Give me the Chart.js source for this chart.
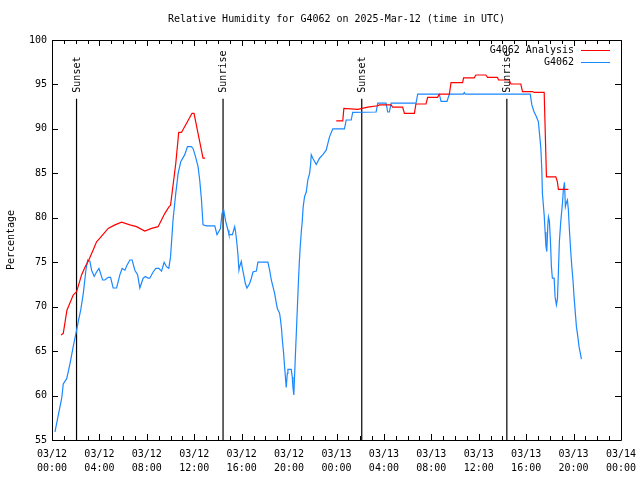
<!DOCTYPE html>
<html>
<head>
<meta charset="utf-8">
<script src="https://cdn.jsdelivr.net/npm/chart.js@4.4.1/dist/chart.umd.min.js"></script>
<style>
  html, body { margin: 0; padding: 0; background: #fff; }
  #wrap { width: 640px; height: 480px; }
</style>
</head>
<body>
<div id="wrap"><canvas id="myChart" width="640" height="480"></canvas></div>
<script>
const chartTitle = 'Relative Humidity for G4062 on 2025-Mar-12 (time in UTC)';
const yTitle = 'Percentage';
const tickDates = ['03/12', '03/12', '03/12', '03/12', '03/12', '03/12', '03/13', '03/13', '03/13', '03/13', '03/13', '03/13', '03/14'];
const tickTimes = ['00:00', '04:00', '08:00', '12:00', '16:00', '20:00', '00:00', '04:00', '08:00', '12:00', '16:00', '20:00', '00:00'];

// hours since 03/12 00:00 UTC
const analysisHours = [0.76, 0.95, 1.26, 1.79, 2.08, 2.5, 2.84, 3.06, 3.48, 3.76, 4.04, 4.74, 5.31, 5.87, 6.57, 7.13, 7.83, 8.4, 8.95, 9.52, 9.88, 10.0, 10.44, 10.69, 10.92, 11.34, 11.81, 11.98, 12.32, 12.74, 12.91,
  18.0,
  23.98, 24.53, 24.62, 25.8, 26.64, 27.48, 27.62, 28.6, 28.74, 29.58, 29.73, 30.57, 30.7, 31.55, 31.69, 32.53, 32.67, 33.52, 33.66, 34.64, 34.72, 35.62, 35.76, 36.6, 36.74, 37.58, 37.67, 38.57, 38.71, 39.55, 39.69, 40.53, 40.67, 41.52, 41.71, 42.5, 42.63, 42.72, 43.56];
const analysisValues = [66.8, 67.0, 69.6, 71.3, 71.7, 73.6, 74.6, 75.1, 76.4, 77.3, 77.7, 78.8, 79.2, 79.5, 79.2, 79.0, 78.5, 78.8, 79.0, 80.5, 81.25, 81.4, 86.1, 89.6, 89.6, 90.6, 91.75, 91.75, 89.5, 86.7, 86.7,
  null,
  90.9, 90.9, 92.3, 92.2, 92.45, 92.6, 92.7, 92.7, 92.45, 92.45, 91.75, 91.75, 92.8, 92.8, 93.55, 93.55, 93.9, 93.9, 95.2, 95.2, 95.75, 95.75, 96.06, 96.06, 95.8, 95.8, 95.5, 95.5, 95.05, 95.05, 94.2, 94.2, 94.1, 94.1, 84.6, 84.6, 84.06, 83.2, 83.2];

const obsHours = [0.25, 0.53, 0.82, 0.95, 1.24, 1.52, 1.79, 2.08, 2.21, 2.42, 2.64, 2.86, 3.01, 3.2, 3.34, 3.56, 3.76, 3.96, 4.13, 4.27, 4.46, 4.74, 4.94, 5.16, 5.45, 5.73, 5.92, 6.15, 6.34, 6.57, 6.76, 6.99, 7.22, 7.41, 7.69, 7.89, 8.11, 8.25, 8.53, 8.76, 9.01, 9.24, 9.46, 9.66, 9.85,
  10.0, 10.21, 10.44, 10.64, 10.86, 11.2, 11.43, 11.76, 11.9, 12.1, 12.32, 12.46, 12.61, 12.74, 13.03, 13.73, 13.92, 14.21, 14.34, 14.48, 14.65, 14.85, 14.93, 15.22, 15.41, 15.49, 15.6, 15.69, 15.77, 15.83, 15.97, 16.06, 16.17, 16.31, 16.45, 16.67, 16.82, 16.95, 17.24, 17.37,
  18.21, 18.36, 18.5, 18.64, 18.78, 18.92, 19.01, 19.2, 19.28, 19.37, 19.43, 19.54, 19.62, 19.71, 19.76, 19.85, 19.9, 20.18, 20.27, 20.32, 20.4, 20.52, 20.61, 20.69, 20.77, 20.86, 20.94, 21.03, 21.11, 21.19, 21.31, 21.45, 21.58, 21.73, 21.81, 21.87,
  22.0, 22.29, 22.57, 22.85, 23.13, 23.41, 23.69, 24.67, 24.82, 25.24, 25.37, 27.34, 27.48, 28.18, 28.32, 28.46, 28.61, 30.71, 30.85, 32.67, 32.82, 33.32, 33.52, 34.7, 34.78, 34.86, 40.34,
  40.48, 40.67, 40.86, 41.03, 41.15, 41.24, 41.32, 41.37, 41.52, 41.6, 41.66, 41.74, 41.83, 41.88, 41.96, 42.05, 42.13, 42.21, 42.36, 42.44, 42.55, 42.64, 42.72, 42.8, 42.92, 43.06, 43.14, 43.23, 43.31, 43.39, 43.48, 43.56, 43.65, 43.76, 43.85, 43.96, 44.04, 44.15, 44.24, 44.36, 44.46, 44.57, 44.66];
const obsValues = [55.9, 57.8, 59.7, 61.3, 61.9, 63.6, 65.5, 67.4, 68.3, 69.6, 71.5, 74.1, 75.25, 75.1, 74.1, 73.4, 73.9, 74.3, 73.6, 73.0, 73.0, 73.3, 73.3, 72.1, 72.1, 73.6, 74.3, 74.1, 74.7, 75.25, 75.25, 74.1, 73.6, 72.1, 73.2, 73.4, 73.2, 73.2, 73.9, 74.3, 74.3, 74.0, 75.0, 74.5, 74.3,
  75.6, 79.75, 82.75, 85.0, 86.3, 87.1, 88.0, 88.0, 87.8, 86.9, 85.75, 84.25, 82.0, 79.2, 79.1, 79.1, 78.1, 78.8, 80.5, 80.9, 79.6, 78.6, 78.1, 78.1, 79.0, 78.4, 77.1, 75.8, 74.1, 74.5, 75.1, 74.3, 73.6, 72.6, 72.1, 72.6, 73.2, 73.9, 74.0, 75.0,
  75.0, 74.1, 73.0, 72.25, 71.5, 70.4, 69.8, 69.25, 68.5, 67.4, 66.25, 64.75, 63.25, 61.75, 60.9, 62.5, 62.95, 62.95, 62.1, 61.0, 60.06, 64.1, 67.0, 69.6, 72.25, 74.9, 76.75, 78.4, 79.6, 81.25, 82.4, 82.9, 84.25, 85.0, 85.9, 87.1,
  86.7, 86.0, 86.7, 87.1, 87.6, 89.1, 90.0, 90.0, 91.0, 91.0, 91.85, 91.9, 92.9, 92.9, 91.9, 91.9, 92.9, 92.9, 93.9, 93.9, 93.1, 93.1, 93.9, 93.9, 94.1, 93.9, 93.9,
  92.7, 91.9, 91.4, 90.8, 89.1, 87.8, 85.4, 82.75, 80.3, 78.4, 76.9, 76.2, 79.2, 80.1, 79.6, 77.3, 74.5, 73.2, 73.2, 71.1, 70.2, 70.9, 73.9, 77.3, 79.6, 81.6, 83.2, 84.0, 81.25, 81.7, 82.0, 80.9, 78.6, 76.2, 74.5, 72.8, 71.1, 69.25, 67.75, 66.6, 65.5, 64.75, 64.1];

const sunEventNames = ['Sunset', 'Sunrise', 'Sunset', 'Sunrise'];
const sunEventHours = [2.07, 14.43, 26.13, 38.37];

const FONT = 'DejaVu Sans Mono';

function toPoints(xs, ys) {
  return xs.map((x, i) => ({ x, y: ys[i] }));
}

const datasets = [
  {
    label: 'G4062 Analysis',
    data: toPoints(analysisHours, analysisValues),
    borderColor: '#ff0000',
    borderWidth: 1.2,
    pointRadius: 0,
    spanGaps: false,
  },
  {
    label: 'G4062',
    data: toPoints(obsHours, obsValues),
    borderColor: '#1a88ff',
    borderWidth: 1.2,
    pointRadius: 0,
  },
];

sunEventHours.forEach((h, i) => {
  datasets.push({
    label: sunEventNames[i],
    data: [{ x: h, y: 55 }, { x: h, y: 93.4 }],
    borderColor: '#000',
    borderWidth: 1.2,
    pointRadius: 0,
  });
});

// frame, inward ticks, legend, titles and sun labels, gnuplot style
const gnuplotDecor = {
  id: 'gnuplotDecor',
  afterDatasetsDraw(chart) {
    const { ctx, chartArea: a } = chart;
    const xs = chart.scales.x;
    const ys = chart.scales.y;
    ctx.save();
    ctx.strokeStyle = '#000';
    ctx.lineWidth = 1;
    ctx.beginPath();
    ctx.rect(Math.round(a.left) + 0.5, Math.round(a.top) + 0.5, Math.round(a.right - a.left), Math.round(a.bottom - a.top));
    ctx.stroke();

    ctx.beginPath();
    for (let h = 0; h <= 48; h += 1) {
      const px = Math.round(xs.getPixelForValue(h)) + 0.5;
      const len = h % 4 === 0 ? 6 : 4;
      ctx.moveTo(px, a.bottom); ctx.lineTo(px, a.bottom - len);
      ctx.moveTo(px, a.top); ctx.lineTo(px, a.top + len);
    }
    for (let v = 55; v <= 100; v += 5) {
      const py = Math.round(ys.getPixelForValue(v)) + 0.5;
      ctx.moveTo(a.left, py); ctx.lineTo(a.left + 6, py);
      ctx.moveTo(a.right, py); ctx.lineTo(a.right - 6, py);
    }
    ctx.stroke();

    ctx.fillStyle = '#000';
    ctx.font = `10px "${FONT}"`;

    // sun labels
    sunEventHours.forEach((h, i) => {
      const px = Math.round(xs.getPixelForValue(h)) + 0.5;
      ctx.save();
      ctx.translate(px, ys.getPixelForValue(93.4) - 6);
      ctx.rotate(-Math.PI / 2);
      ctx.textAlign = 'left';
      ctx.textBaseline = 'middle';
      ctx.fillText(sunEventNames[i], 0, 0);
      ctx.restore();
    });

    // legend
    const legendRight = 574;
    [0, 1].forEach((di, row) => {
      const ds = chart.data.datasets[di];
      const y = 50 + row * 12;
      ctx.textAlign = 'right';
      ctx.textBaseline = 'middle';
      ctx.fillStyle = '#000';
      ctx.fillText(ds.label, legendRight, y);
      ctx.strokeStyle = ds.borderColor;
      ctx.beginPath();
      ctx.moveTo(581, y + 0.5);
      ctx.lineTo(610, y + 0.5);
      ctx.stroke();
    });

    // title
    ctx.fillStyle = '#000';
    ctx.textAlign = 'center';
    ctx.textBaseline = 'middle';
    ctx.fillText(chartTitle, (a.left + a.right) / 2, 19);

    // y title
    ctx.save();
    ctx.translate(11, (a.top + a.bottom) / 2);
    ctx.rotate(-Math.PI / 2);
    ctx.fillText(yTitle, 0, 0);
    ctx.restore();
    ctx.restore();
  },
};

new Chart(document.getElementById('myChart'), {
  type: 'line',
  data: { datasets },
  options: {
    responsive: false,
    animation: false,
    devicePixelRatio: 1,
    layout: { padding: { top: 40, right: 19, left: 0, bottom: 0 } },
    plugins: {
      legend: { display: false },
      tooltip: { enabled: false },
    },
    scales: {
      x: {
        type: 'linear',
        min: 0,
        max: 48,
        grid: { display: false, drawTicks: false },
        border: { display: false },
        afterFit(scale) {
          scale.height = 40;
          scale.paddingLeft = 0;
          scale.paddingRight = 0;
        },
        ticks: {
          stepSize: 4,
          maxRotation: 0,
          autoSkip: false,
          padding: 7,
          color: '#000',
          font: { family: FONT, size: 10, lineHeight: 1.4 },
          callback: (v) => [tickDates[v / 4], tickTimes[v / 4]],
        },
      },
      y: {
        min: 55,
        max: 100,
        grid: { display: false, drawTicks: false },
        border: { display: false },
        afterFit(scale) {
          scale.width = 52;
          scale.paddingTop = 0;
          scale.paddingBottom = 0;
        },
        ticks: {
          stepSize: 5,
          padding: 5,
          color: '#000',
          font: { family: FONT, size: 10 },
        },
      },
    },
  },
  plugins: [gnuplotDecor],
});
</script>
</body>
</html>
